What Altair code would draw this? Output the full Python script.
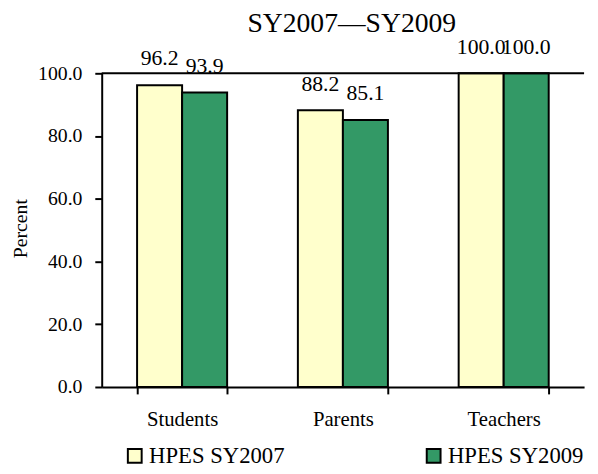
import altair as alt
import pandas as pd

categories = ["Students", "Parents", "Teachers"]
series = ["HPES SY2007", "HPES SY2009"]
sy2007 = [96.2, 88.2, 100.0]
sy2009 = [93.9, 85.1, 100.0]
colors = ["#FFFFCC", "#339966"]

rows = []
for c, a, b in zip(categories, sy2007, sy2009):
    rows.append({"Group": c, "Series": series[0], "Value": a})
    rows.append({"Group": c, "Series": series[1], "Value": b})
df = pd.DataFrame(rows)

FONT = "Liberation Serif, Times New Roman, DejaVu Serif, serif"

x = alt.X(
    "Group:N", sort=categories, title=None,
    scale=alt.Scale(paddingInner=0.44, paddingOuter=0.22, range=[0, 489]),
    axis=alt.Axis(tickBand="extent", labelAngle=0, labelFont=FONT, labelFontSize=21,
                  labelColor="black", domainColor="black", domainWidth=2,
                  tickColor="black", tickWidth=2, tickSize=7, labelPadding=15),
)
xo = alt.XOffset("Series:N", sort=series, scale=alt.Scale(paddingInner=0, paddingOuter=0))
y = alt.Y(
    "Value:Q", title="Percent",
    scale=alt.Scale(domain=[0, 100], nice=False),
    axis=alt.Axis(values=[0, 20, 40, 60, 80, 100], format=".1f", grid=False,
                  labelFont=FONT, labelFontSize=20, labelColor="black",
                  domainColor="black", domainWidth=2, tickColor="black", tickWidth=2,
                  tickSize=7, labelPadding=13,
                  titleFont=FONT, titleFontSize=20, titleFontWeight="normal",
                  titleColor="black", titleX=-76, titleY=157,
                  titleBaseline="alphabetic", titleAngle=270),
)
color = alt.Color(
    "Series:N", sort=series,
    scale=alt.Scale(domain=series, range=colors),
    legend=alt.Legend(title=None, orient="none", legendX=22, legendY=376,
                      direction="horizontal", columns=2, columnPadding=139, padding=0,
                      symbolType="square", symbolSize=196, symbolStrokeColor="black",
                      symbolStrokeWidth=2, labelFont=FONT, labelFontSize=23,
                      labelColor="black", labelOffset=3),
)

bars = alt.Chart(df).mark_bar(stroke="black", strokeWidth=2).encode(
    x=x, xOffset=xo, y=y, color=color
)
labels = alt.Chart(df).mark_text(
    font=FONT, fontSize=22, color="black", baseline="alphabetic", dy=-20
).encode(
    x=alt.X("Group:N", sort=categories),
    xOffset=alt.XOffset("Series:N", sort=series),
    y="Value:Q",
    text=alt.Text("Value:Q", format=".1f"),
)
top_line = alt.Chart(pd.DataFrame({"v": [100]})).mark_rule(
    color="black", strokeWidth=2
).encode(y="v:Q")

chart = alt.layer(bars, labels, top_line).properties(
    width=489, height=318,
    title=alt.TitleParams("SY2007\u2014SY2009", font=FONT, fontSize=28,
                          fontWeight="normal", color="black", offset=-2, dx=9),
    autosize=alt.AutoSizeParams(type="none"),
    padding={"left": 95, "top": 63, "right": 6, "bottom": 85},
).configure(font=FONT).configure_view(stroke=None)

chart.save("out.html", embed_options={"renderer": "svg", "actions": False})
